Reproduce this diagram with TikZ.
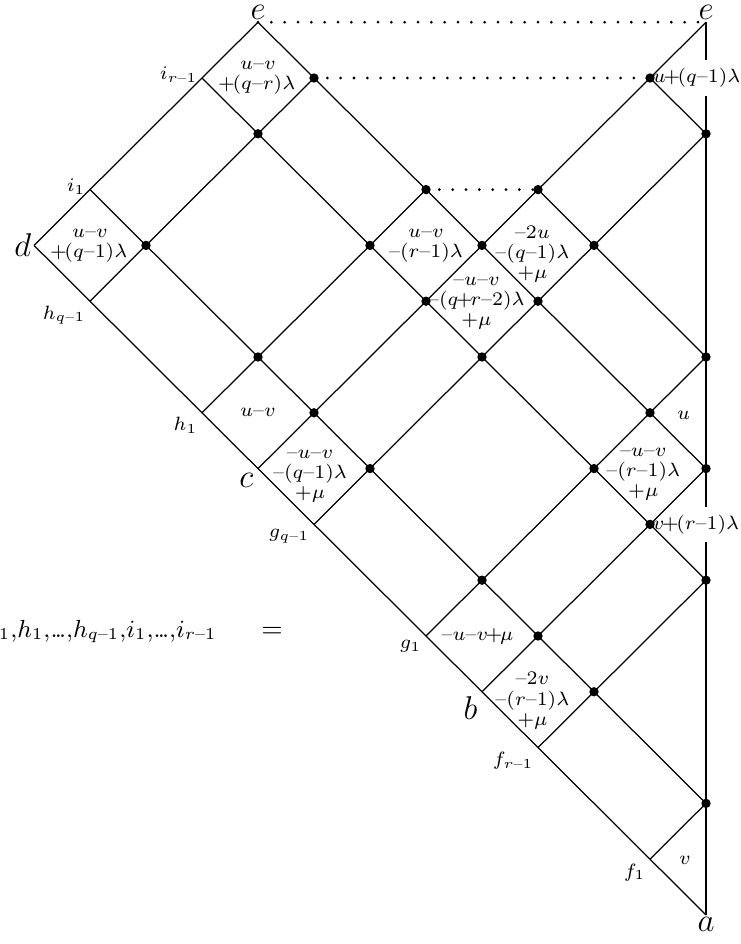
\documentclass[tikz,border=0pt]{standalone}
\usepackage{amsmath,amssymb}
\usepackage{tikz}
\newcommand{\guion}{\text{--}}
\newcommand{\mas}{\mkern-2mu{+}\mkern-2mu}
\newcommand{\pts}{{.}\mkern-2mu{.}\mkern-2mu{.}}
\begin{document}
\begin{tikzpicture}[x=0.716cm,y=0.7134cm,
  celda/.style={font=\scriptsize,align=center,inner sep=0pt},
  indice/.style={font=\scriptsize,inner sep=1.5pt},
  vertice/.style={font=\large,inner sep=0.8pt},
  puntos/.style={line width=1.1pt,line cap=round,dash pattern=on 0pt off 4.85pt},
  valor/.style={font=\scriptsize,fill=white,anchor=west,inner xsep=0.8pt,inner ysep=3pt}]
  \useasboundingbox (-12.607,-0.520) rectangle (0.607,16.398);
  \clip (-12.607,-0.520) rectangle (0.607,16.398);
  % puntos del borde
  \coordinate (a) at (0,0);
  \coordinate (b) at (-4,4);
  \coordinate (c) at (-8,8);
  \coordinate (d) at (-12,12);
  \coordinate (e) at (-8,16);
  \coordinate (e2) at (0,16);
  \coordinate (f1) at (-1,1);
  \coordinate (fr) at (-3,3);
  \coordinate (g1) at (-5,5);
  \coordinate (gq) at (-7,7);
  \coordinate (h1) at (-9,9);
  \coordinate (hq) at (-11,11);
  \coordinate (i1) at (-11,13);
  \coordinate (ir) at (-9,15);
  % puntos sobre la vertical
  \foreach \y in {2,6,8,10,14} \coordinate (v\y) at (0,\y);
  % extremos interiores
  \coordinate (n1) at (-7,15);
  \coordinate (n2) at (-5,13);
  \coordinate (n3) at (-3,13);
  \coordinate (n4) at (-1,15);
  \coordinate (n5) at (-1,7);

  \draw[line width=1pt] (e2) -- (a);
  \node[valor] (uq) at (n4) {$u\mas(q\guion1)\lambda$};
  \node[valor] (vr) at (n5) {$v\mas(r\guion1)\lambda$};

  \draw[line width=0.45pt] (d) -- (a) (i1) -- (v2) (ir) -- (v6) (e) -- (v8) (n3) -- (v10) (n4) -- (v14);
  \draw[line width=0.45pt] (d) -- (e) (hq) -- (n1) (h1) -- (n2) (c) -- (e2) (gq) -- (v14)
    (g1) -- (v10) (b) -- (v8) (fr) -- (v6) (f1) -- (v2);
  \draw[puntos] (e) -- (e2) (n1) -- (n4) (n2) -- (n3);

  \foreach \p in {(-10,12),(-8,10),(-7,9),(-6,8),(-4,6),(-3,5),(-2,4),(0,2),
    (-8,14),(-6,12),(-5,11),(-4,10),(-2,8),(-1,7),(0,6),
    (-7,15),(-5,13),(-4,12),(-3,11),(-1,9),(0,8),
    (-3,13),(-2,12),(0,10),(-1,15),(0,14)}
    \fill \p circle (1.7pt);

  % letras del borde
  \node[vertice,above] (le) at (e) {$e$};
  \node[vertice,above] (le2) at (e2) {$e$};
  \node[vertice,below] (la) at (a) {$a$};
  \node[vertice,left] (ld) at (d) {$d$};
  \node[vertice,below left,inner sep=1.5pt] (lc) at (c) {$c$};
  \node[vertice,below left,inner sep=1.5pt] (lb) at (b) {$b$};
  \node[indice,below left] (lf1) at (f1) {$f_1$};
  \node[indice,below left] (lfr) at (fr) {$f_{r\guion1}$};
  \node[indice,below left] (lg1) at (g1) {$g_1$};
  \node[indice,below left] (lgq) at (gq) {$g_{q\guion1}$};
  \node[indice,below left] (lh1) at (h1) {$h_1$};
  \node[indice,below left] (lhq) at (hq) {$h_{q\guion1}$};
  \node[indice,left,yshift=1.2pt] (li1) at (i1) {$i_1$};
  \node[indice,left,yshift=1.2pt] (lir) at (ir) {$i_{r\guion1}$};

  % pesos de las celdas
  \node[celda] (k1) at (-8,15) {$u\guion v$\\[-0.7pt]$\mas(q\guion r)\lambda$};
  \node[celda] (k2) at (-11,12) {$u\guion v$\\[-0.7pt]$\mas(q\guion1)\lambda$};
  \node[celda] (k3) at (-5,12) {$u\guion v$\\[-0.7pt]$\guion(r\guion1)\lambda$};
  \node[celda] (k4) at (-3.1,11.85) {$\guion2u$\\[-0.7pt]$\guion(q\guion1)\lambda$\\[-0.7pt]$+\mu$};
  \node[celda] (k5) at (-4.1,10.97) {$\guion u\guion v$\\[-0.7pt]$\guion(q\mas r\guion2)\lambda$\\[-0.7pt]$+\mu$};
  \node[celda] (k6) at (-8,9) {$u\guion v$};
  \node[celda] (k7) at (-7.07,7.86) {$\guion u\guion v$\\[-0.7pt]$\guion(q\guion1)\lambda$\\[-0.7pt]$+\mu$};
  \node[celda] (k8) at (-1.12,7.9) {$\guion u\guion v$\\[-0.7pt]$\guion(r\guion1)\lambda$\\[-0.7pt]$+\mu$};
  \node[celda] (k9) at (-4.08,5) {$\guion u\guion v\mas\mu$};
  \node[celda] (k10) at (-3.1,3.84) {$\guion2v$\\[-0.7pt]$\guion(r\guion1)\lambda$\\[-0.7pt]$+\mu$};
  \node[celda] (k11) at (-0.4,8.96) {$u$};
  \node[celda] (k12) at (-0.375,0.98) {$v$};

  % lado izquierdo de la igualdad
  \node[anchor=base east,inner sep=0pt,font=\fontsize{9pt}{11pt}\selectfont] (lhs) at (-8.73,4.98)
    {$g_{q\guion1}{,}h_1{,}\pts{,}h_{q\guion1}{,}i_1{,}\pts{,}i_{r\guion1}$};
  \node[anchor=base,inner sep=0pt] (eq) at (-7.75,4.98) {$=$};
\end{tikzpicture}
\end{document}
